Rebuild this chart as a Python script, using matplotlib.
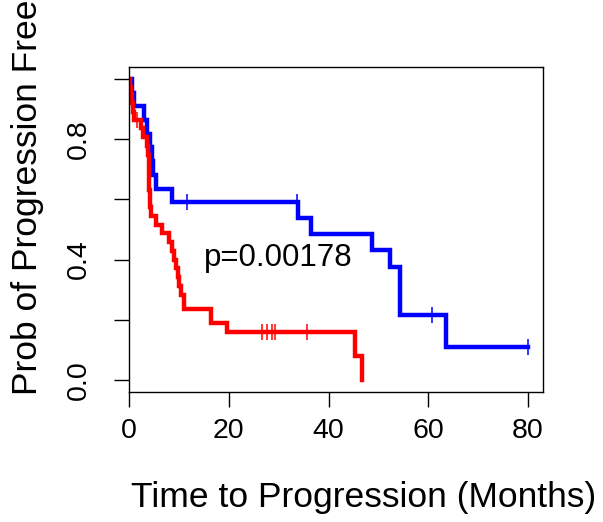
#!/usr/bin/env python3
"""Kaplan-Meier style plot: time to progression, two groups."""

import numpy as np
import matplotlib
matplotlib.use("Agg")
import matplotlib.pyplot as plt

# ---------------------------- data ----------------------------

# blue group: event times (months) and survival after each event
blue_t = [0.6, 1.0, 3.0, 3.6, 4.3, 4.6, 4.9, 5.4, 8.6, 33.8, 36.4, 48.7, 52.4, 54.4, 63.6]
blue_s = [0.955, 0.909, 0.864, 0.818, 0.773, 0.727, 0.682, 0.636, 0.591,
          0.539, 0.485, 0.431, 0.377, 0.216, 0.108]
blue_end = 80.0
blue_cens = [11.6, 33.6, 60.7, 80.0]

# red group
red_t = [0.2, 0.4, 0.6, 0.9, 1.1, 2.5, 2.9, 3.6, 3.9, 4.0, 4.1, 4.2, 4.4,
         5.4, 6.7, 8.0, 8.7, 9.1, 9.4, 9.8, 10.1, 10.4, 11.1, 16.5, 19.7, 45.4, 46.7]
red_s = [0.973, 0.946, 0.919, 0.892, 0.865, 0.836, 0.806, 0.777, 0.748, 0.690,
         0.632, 0.574, 0.545, 0.516, 0.487, 0.458, 0.429, 0.400, 0.371, 0.342,
         0.313, 0.284, 0.235, 0.188, 0.161, 0.081, 0.0]
red_end = 46.7
red_cens = [1.6, 26.6, 27.7, 28.6, 29.2, 35.7]

p_text = "p=0.00178"
x_ticks = [0, 20, 40, 60, 80]
y_ticks = [0.0, 0.2, 0.4, 0.6, 0.8, 1.0]
y_ticklabels = ["0.0", "", "0.4", "", "0.8", ""]

# ---------------------------- helpers ----------------------------

def step_arrays(times, surv, t_end):
    t = np.concatenate([[0.0], times])
    s = np.concatenate([[1.0], surv])
    if t_end > t[-1]:
        t = np.append(t, t_end)
        s = np.append(s, s[-1])
    return t, s


def surv_at(times, surv, tq):
    idx = np.searchsorted(np.asarray(times), np.asarray(tq), side="right")
    s = np.concatenate([[1.0], surv])
    return s[idx]

# ---------------------------- plot ----------------------------

plt.rcParams["font.family"] = ["Liberation Sans", "DejaVu Sans"]

W, H = 603, 522
fig = plt.figure(figsize=(W / 100, H / 100), dpi=100)
ax = fig.add_axes([129 / W, 1 - 392 / H, (543 - 129) / W, (392 - 67) / H])

for times, surv, t_end, cens, col in [
    (blue_t, blue_s, blue_end, blue_cens, "#0000ff"),
    (red_t, red_s, red_end, red_cens, "#ff0000"),
]:
    t, s = step_arrays(times, surv, t_end)
    ax.step(t, s, where="post", color=col, lw=3.2, solid_joinstyle="miter")
    ax.plot(cens, surv_at(times, surv, cens), ls="none", marker="|",
            ms=11.5, mew=1.1, color=col)

ax.text(30, 0.405, p_text, ha="center", va="center", fontsize=22.5)

ax.set_xlim(0, 83)
ax.set_ylim(-0.04, 1.04)
ax.set_xticks(x_ticks)
ax.set_yticks(y_ticks)
ax.set_yticklabels(y_ticklabels, rotation=90, va="center")
ax.tick_params(length=11, width=1.0, labelsize=20.5)
ax.tick_params(axis="x", pad=8)
ax.tick_params(axis="y", pad=16)
for sp in ax.spines.values():
    sp.set_linewidth(1.0)

fig.text(363.5 / W, 1 - 497 / H, "Time to Progression (Months)",
         ha="center", va="center", fontsize=25.5)
fig.text(28 / W, 1 - 197 / H, "Prob of Progression Free",
         ha="center", va="center", rotation=90, fontsize=25.5)

fig.savefig("out.png", dpi=100)
